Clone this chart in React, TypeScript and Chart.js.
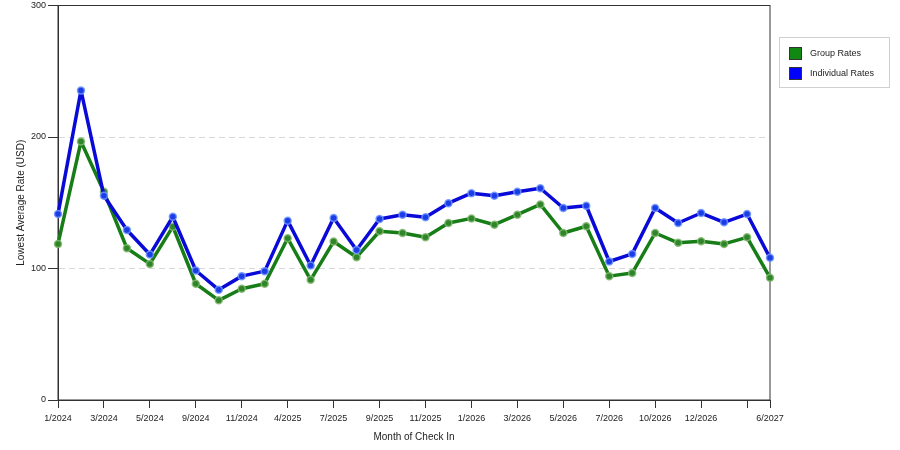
import { useEffect, useRef } from 'react';
import Chart from 'chart.js/auto';

const months = [
  '1/2024', '2/2024', '3/2024', '4/2024', '5/2024', '8/2024', '9/2024', '10/2024',
  '11/2024', '2/2025', '4/2025', '6/2025', '7/2025', '8/2025', '9/2025', '10/2025',
  '11/2025', '12/2025', '1/2026', '2/2026', '3/2026', '4/2026', '5/2026', '6/2026',
  '7/2026', '9/2026', '10/2026', '11/2026', '12/2026', '2/2027', '4/2027', '6/2027',
];
const shownMonths = [
  '1/2024', '3/2024', '5/2024', '9/2024', '11/2024', '4/2025', '7/2025', '9/2025',
  '11/2025', '1/2026', '3/2026', '5/2026', '7/2026', '10/2026', '12/2026', '6/2027',
];
const groupRates = [
  118.7, 196.5, 158.3, 115.4, 103.5, 131.8, 88.4, 75.8,
  84.6, 88.4, 123.0, 91.4, 120.5, 108.6, 128.3, 127.0,
  123.7, 134.6, 138.1, 133.3, 140.9, 148.7, 127.0, 132.1,
  94.2, 96.5, 127.0, 119.5, 120.7, 118.7, 123.7, 93.0,
];
const individualRates = [
  141.4, 235.4, 155.3, 129.3, 110.6, 139.4, 98.5, 83.8,
  94.2, 98.0, 136.4, 102.3, 138.4, 114.1, 137.6, 140.9,
  138.9, 149.7, 157.3, 155.3, 158.3, 161.0, 146.0, 147.7,
  105.3, 111.1, 146.0, 134.6, 142.2, 135.1, 141.4, 108.1,
];
const yTicks = [0, 100, 200, 300];

const GREEN = '#177d17';
const BLUE = '#0a0ad8';
const FONT = '"Liberation Sans", Arial, sans-serif';

const framePlugin = {
  id: 'frame',
  beforeDatasetsDraw(chart: any) {
    const { ctx, chartArea: a } = chart;
    ctx.save();
    ctx.strokeStyle = '#333';
    ctx.lineWidth = 1;
    ctx.strokeRect(a.left, a.top, a.right - a.left, a.bottom - a.top);
    ctx.restore();
  },
};

const legendPlugin = {
  id: 'boxLegend',
  afterDraw(chart: any) {
    const { ctx, chartArea: a } = chart;
    const x = a.right + 9;
    const y = 37;
    ctx.save();
    ctx.fillStyle = '#fff';
    ctx.fillRect(x, y, 110, 50);
    ctx.strokeStyle = '#d0d0d0';
    ctx.lineWidth = 1;
    ctx.strokeRect(x + 0.5, y + 0.5, 110, 50);
    const items = [
      { label: 'Group Rates', color: '#118811' },
      { label: 'Individual Rates', color: '#0000ff' },
    ];
    ctx.font = `9px ${FONT}`;
    ctx.textBaseline = 'middle';
    items.forEach((it, i) => {
      const iy = y + 10 + i * 20;
      ctx.fillStyle = it.color;
      ctx.fillRect(x + 10, iy, 13, 13);
      ctx.strokeStyle = '#333';
      ctx.strokeRect(x + 10.5, iy + 0.5, 12, 12);
      ctx.fillStyle = '#222';
      ctx.fillText(it.label, x + 31, iy + 7);
    });
    ctx.restore();
  },
};

export default function App() {
  const chartRef = useRef<HTMLCanvasElement>(null);
  const chartInstance = useRef<Chart | null>(null);

  useEffect(() => {
    if (chartRef.current) {
      const ctx = chartRef.current.getContext('2d');
      if (ctx) {
        chartInstance.current = new Chart(ctx, {
          type: 'line',
          data: {
            labels: months,
            datasets: [
              {
                label: 'Individual Rates',
                data: individualRates,
                borderColor: BLUE,
                borderWidth: 3.5,
                borderJoinStyle: 'round',
                borderCapStyle: 'round',
                pointRadius: 3.5,
                pointBackgroundColor: '#1c3ce6',
                pointBorderColor: 'rgba(110,150,255,0.85)',
                pointBorderWidth: 1.5,
                tension: 0,
                fill: false,
              },
              {
                label: 'Group Rates',
                data: groupRates,
                borderColor: GREEN,
                borderWidth: 3.5,
                borderJoinStyle: 'round',
                borderCapStyle: 'round',
                pointRadius: 3.5,
                pointBackgroundColor: '#2f852a',
                pointBorderColor: 'rgba(130,185,110,0.85)',
                pointBorderWidth: 1.5,
                tension: 0,
                fill: false,
              },
            ],
          },
          options: {
            animation: false,
            responsive: true,
            maintainAspectRatio: false,
            layout: { padding: { left: 0, top: 5, right: 130, bottom: 0 } },
            scales: {
              x: {
                offset: false,
                grid: {
                  drawOnChartArea: false,
                  tickLength: 8,
                  tickColor: (c: any) =>
                    c.index % 2 === 0 || c.index === months.length - 1 ? '#333' : 'rgba(0,0,0,0)',
                },
                border: { color: '#333' },
                ticks: {
                  autoSkip: false,
                  maxRotation: 0,
                  padding: 5,
                  color: '#222',
                  font: { family: FONT, size: 9 },
                  callback: (_v: any, i: number) =>
                    shownMonths.includes(months[i]) ? months[i] : '',
                },
                title: {
                  display: true,
                  text: 'Month of Check In',
                  color: '#222',
                  font: { family: FONT, size: 10 },
                  padding: { top: 7, bottom: 7 },
                },
                afterFit: (s: any) => {
                  s.height = 50;
                  s.paddingLeft = 0;
                  s.paddingRight = 0;
                },
              },
              y: {
                min: 0,
                max: 300,
                afterBuildTicks: (s: any) => { s.ticks = yTicks.map((v) => ({ value: v })); },
                grid: {
                  color: (c: any) =>
                    c.tick && (c.tick.value === 100 || c.tick.value === 200) ? '#d8d8d8' : 'rgba(0,0,0,0)',
                  tickColor: '#333',
                  tickLength: 10,
                },
                border: { color: '#333', dash: [6, 4] },
                ticks: {
                  padding: 2,
                  color: '#222',
                  font: { family: FONT, size: 9 },
                },
                title: {
                  display: true,
                  text: 'Lowest Average Rate (USD)',
                  color: '#222',
                  font: { family: FONT, size: 10 },
                  padding: { top: 15, bottom: 15 },
                },
                afterFit: (s: any) => {
                  s.width = 58;
                  s.paddingTop = 0;
                  s.paddingBottom = 0;
                },
              },
            },
            plugins: {
              legend: { display: false },
              tooltip: { enabled: false },
            },
          },
          plugins: [framePlugin, legendPlugin],
        });
      }
    }
    return () => {
      chartInstance.current?.destroy();
    };
  }, []);

  return (
    <div style={{ position: 'fixed', left: 0, top: 0, width: 900, height: 450, background: '#fff' }}>
      <canvas ref={chartRef}></canvas>
    </div>
  );
}
